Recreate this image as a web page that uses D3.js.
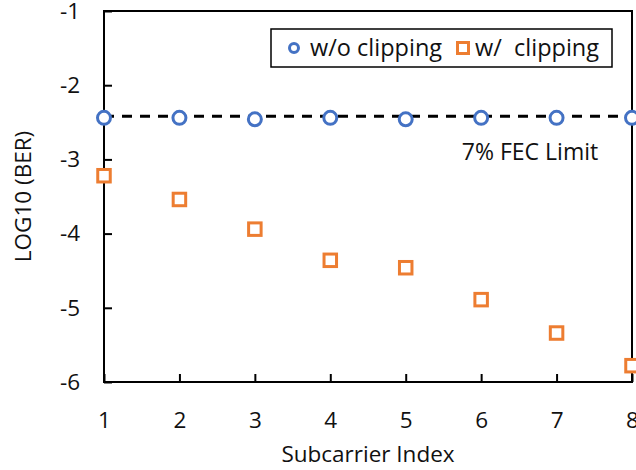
<!DOCTYPE html>
<html lang="en">
<head>
  <meta charset="UTF-8" />
  <title>BER per subcarrier</title>
  <script src="https://cdn.jsdelivr.net/npm/d3@7"></script>
  <style>
    html, body { margin: 0; background: #fff; }
    body { font-family: "Open Sans", sans-serif; }
    .axis text { font-size: 22.5px; fill: #111; }
  </style>
</head>
<body>
  <svg id="chart" width="636" height="470"></svg>
  <script>
    // data
    const subcarriers = [1, 2, 3, 4, 5, 6, 7, 8];
    const berNoClip = [-2.44, -2.44, -2.46, -2.44, -2.46, -2.44, -2.44, -2.44];
    const berClip = [-3.22, -3.54, -3.94, -4.36, -4.46, -4.89, -5.34, -5.78];
    const fecLimit = -2.42;
    const yTicks = [-1, -2, -3, -4, -5, -6];

    const font = "'Open Sans', sans-serif";
    const svg = d3.select("#chart"),
          margin = {top: 11, right: 4, bottom: 88, left: 104},
          width = +svg.attr("width") - margin.left - margin.right,
          height = +svg.attr("height") - margin.top - margin.bottom;

    const g = svg.append("g")
      .attr("transform", `translate(${margin.left},${margin.top})`);

    const x = d3.scaleLinear().domain([1, 8]).range([0, width]);
    const y = d3.scaleLinear().domain([-6, -1]).range([height, 0]);

    // frame
    g.append("rect")
      .attr("width", width).attr("height", height)
      .attr("fill", "none").attr("stroke", "#000").attr("stroke-width", 2);

    // axes, ticks pointing inward
    const xAxis = g.append("g")
      .attr("class", "axis")
      .attr("transform", `translate(0,${height})`)
      .call(d3.axisBottom(x).tickValues(subcarriers).tickFormat(d => String(d))
        .tickSizeInner(-8).tickSizeOuter(0).tickPadding(30));
    const yAxis = g.append("g")
      .attr("class", "axis")
      .call(d3.axisLeft(y).tickValues(yTicks).tickFormat(d => String(d))
        .tickSizeInner(-8).tickSizeOuter(0).tickPadding(24));
    [xAxis, yAxis].forEach(a => {
      a.select(".domain").remove();
      a.selectAll(".tick line").attr("stroke", "#000").attr("stroke-width", 2);
      a.selectAll("text").attr("font-family", font);
    });

    // axis titles
    svg.append("text")
      .attr("x", margin.left + width / 2).attr("y", 462)
      .attr("text-anchor", "middle")
      .style("font-size", "22.5px").attr("fill", "#111")
      .text("Subcarrier Index");
    svg.append("text")
      .attr("transform", `translate(31,${margin.top + height / 2}) rotate(-90)`)
      .attr("text-anchor", "middle")
      .style("font-size", "22.5px").attr("fill", "#111")
      .text("LOG10 (BER)");

    // FEC limit
    g.append("line")
      .attr("x1", 0).attr("x2", width)
      .attr("y1", y(fecLimit)).attr("y2", y(fecLimit))
      .attr("stroke", "#000").attr("stroke-width", 3)
      .attr("stroke-dasharray", "10,8");
    g.append("text")
      .attr("x", 530 - margin.left).attr("y", 160 - margin.top)
      .attr("text-anchor", "middle")
      .style("font-size", "23px").attr("fill", "#111")
      .text("7% FEC Limit");

    // markers
    g.selectAll(".noclip")
      .data(subcarriers)
      .enter().append("circle")
        .attr("class", "noclip")
        .attr("cx", (d, i) => x(d))
        .attr("cy", (d, i) => y(berNoClip[i]))
        .attr("r", 6.5)
        .attr("fill", "#fff").attr("stroke", "#4472C4").attr("stroke-width", 3);

    g.selectAll(".clip")
      .data(subcarriers)
      .enter().append("rect")
        .attr("class", "clip")
        .attr("x", (d, i) => x(d) - 6.25)
        .attr("y", (d, i) => y(berClip[i]) - 6.25)
        .attr("width", 12.5).attr("height", 12.5)
        .attr("fill", "#fff").attr("stroke", "#ED7D31").attr("stroke-width", 3);

    // legend
    const legend = svg.append("g").attr("transform", "translate(271,29)");
    legend.append("rect")
      .attr("width", 341).attr("height", 38)
      .attr("fill", "#fff").attr("stroke", "#000").attr("stroke-width", 1.5);
    legend.append("circle")
      .attr("cx", 23).attr("cy", 19).attr("r", 4.5)
      .attr("fill", "#fff").attr("stroke", "#4472C4").attr("stroke-width", 3);
    legend.append("text")
      .attr("x", 39).attr("y", 27)
      .style("font-size", "23.5px").attr("fill", "#111")
      .text("w/o clipping");
    legend.append("rect")
      .attr("x", 186.5).attr("y", 13.5).attr("width", 11).attr("height", 11)
      .attr("fill", "#fff").attr("stroke", "#ED7D31").attr("stroke-width", 3);
    legend.append("text")
      .attr("x", 204).attr("y", 27)
      .style("font-size", "23.5px").attr("fill", "#111")
      .style("white-space", "pre")
      .text("w/  clipping");
  </script>
</body>
</html>
